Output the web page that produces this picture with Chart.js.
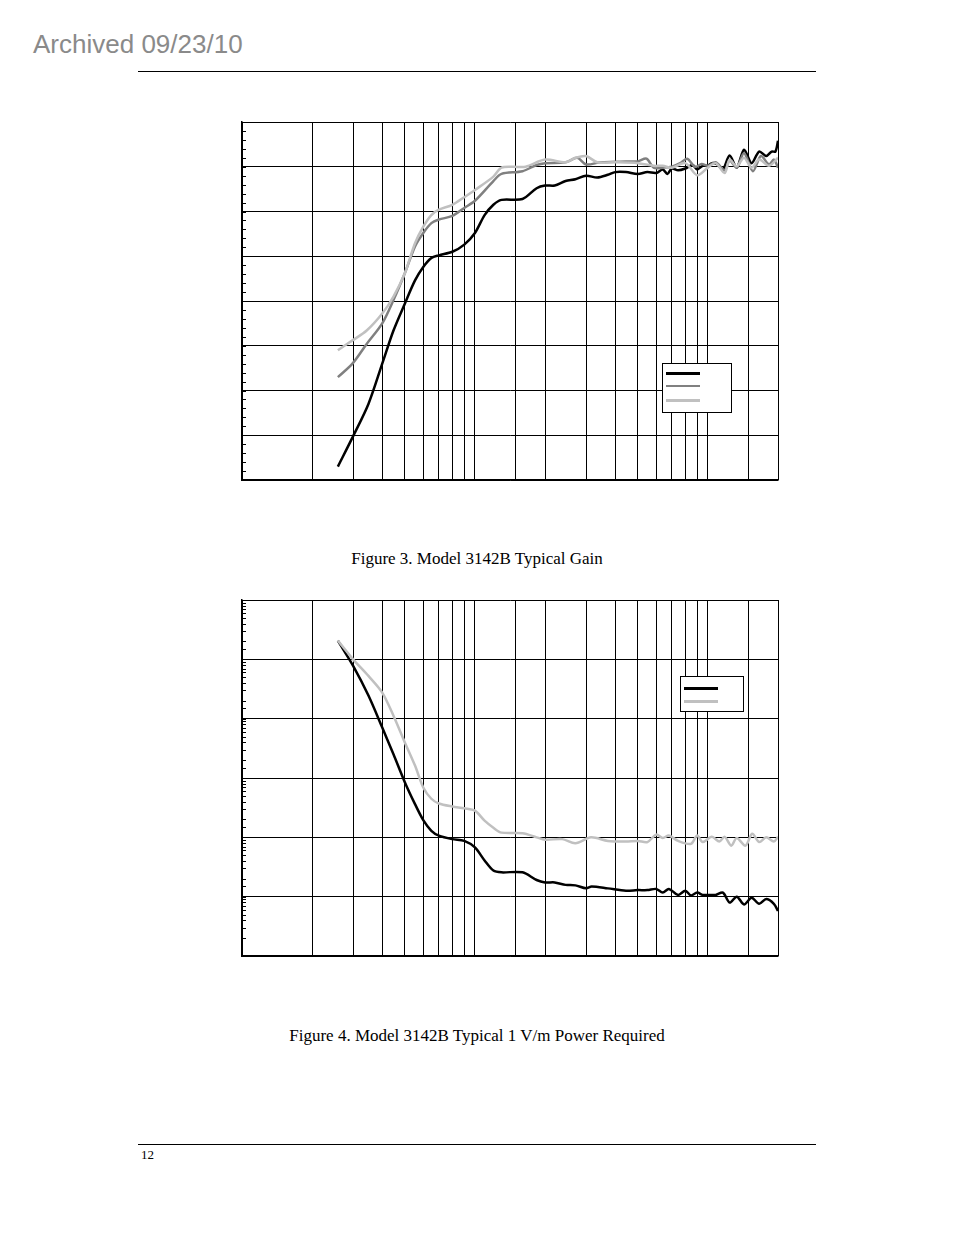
<!DOCTYPE html>
<html><head><meta charset="utf-8">
<script src="https://cdn.jsdelivr.net/npm/chart.js@4/dist/chart.umd.min.js"></script>
<style>
body{margin:0;width:954px;height:1235px;background:#fff;position:relative;font-family:"Liberation Serif",serif;}
.abs{position:absolute;}
.leg{position:absolute;border:1px solid #000;background:#fff;}
.leg div{position:absolute;left:3px;width:34px;}
</style></head><body>
<div class="abs" style="left:33px;top:29px;font-family:'Liberation Sans',Arial,sans-serif;font-size:26px;color:#8a8a8a;">Archived 09/23/10</div>
<div class="abs" style="left:138px;top:71px;width:678px;height:1px;background:#000;"></div>
<div class="abs" style="left:241px;top:121px;width:538px;height:360px;"><canvas id="c1"></canvas></div>
<div class="leg" style="left:662px;top:363px;width:68px;height:48px;">
 <div style="top:8px;height:3px;background:#000;"></div>
 <div style="top:21px;height:2px;background:#808080;"></div>
 <div style="top:35px;height:3px;background:#c0c0c0;"></div>
</div>
<div class="abs" style="left:0;width:954px;top:549px;text-align:center;font-size:17px;">Figure 3. Model 3142B Typical Gain</div>
<div class="abs" style="left:241px;top:599px;width:538px;height:358px;"><canvas id="c2"></canvas></div>
<div class="leg" style="left:680px;top:676px;width:62px;height:34px;">
 <div style="top:10px;height:3px;background:#000;"></div>
 <div style="top:23px;height:3px;background:#c0c0c0;"></div>
</div>
<div class="abs" style="left:0;width:954px;top:1026px;text-align:center;font-size:17px;">Figure 4. Model 3142B Typical 1 V/m Power Required</div>
<div class="abs" style="left:138px;top:1144px;width:678px;height:1px;background:#000;"></div>
<div class="abs" style="left:141px;top:1147px;font-size:13px;">12</div>
<script>
const gainBlackF=[25.8,30,34.9,40,44.7,50,55.3,60,65,70,80,90,100,110,120,130,160,184,200,220,245,270,300,335,372,400,445,500,550,600,640,670,700,745,800,860,900,950,1000,1040,1100,1160,1240,1330,1430,1540,1660,1780,1880,1950,2000];
const gainBlack=[-28.5,-25.1,-21.5,-17,-13.3,-10.3,-7.7,-6.2,-5.2,-4.9,-4.5,-3.7,-2.4,-0.4,0.76,1.3,1.4,2.6,2.9,2.9,3.4,3.6,4.0,3.8,4.1,4.4,4.4,4.2,4.4,4.3,4.7,4.2,4.8,4.6,4.8,5.2,4.7,5.1,5.1,5.4,5.25,4.7,6.25,4.9,6.9,5.4,6.7,6.2,6.7,6.7,7.9];
const gainMidF=[25.8,29.8,34.3,40,44.7,50,55.3,60,65,70,80,90,100,120,130,160,184,200,245,275,300,345,400,445,500,545,585,640,700,760,815,880,940,1000,1080,1180,1240,1330,1430,1560,1690,1830,1920,2000];
const gainMid=[-18.5,-17,-14.8,-12.5,-9.9,-6.9,-3.9,-2.4,-1.3,-0.9,-0.5,0.4,1.2,3.4,4.2,4.5,5.2,5.4,5.5,6.0,5.25,5.5,5.55,5.6,5.6,5.9,4.9,4.9,5.0,5.4,5.9,5.0,5.3,5.1,5.5,4.6,5.7,4.9,6.5,4.5,6.2,5.25,5.8,4.9];
const gainLightF=[25.8,29.8,34.3,40,44.7,50,55.3,60,65,70,80,90,100,120,130,146,165,200,245,270,300,335,400,500,585,640,700,800,900,1000,1080,1180,1240,1330,1430,1540,1660,1830,2000];
const gainLight=[-15.5,-14.4,-13.3,-11.4,-9.5,-6.9,-3.55,-1.7,-0.4,0.2,0.75,1.6,2.4,3.9,4.9,5.0,5.0,5.8,5.5,6.0,6.2,5.5,5.5,5.4,5.1,5.1,4.9,5.4,4.05,4.9,5.4,4.3,5.8,5.05,6.0,4.9,5.8,5.1,6.0];
const powBlackF=[25.8,30,34.9,40,44.7,50,55.3,60,65,70,80,90,100,110,120,130,160,184,200,220,245,270,300,317,372,445,500,550,600,640,680,745,800,845,900,950,1000,1080,1160,1240,1330,1430,1540,1660,1780,1920,2000];
const powBlack=[206.5,77.6,24.5,7.08,2.51,0.851,0.363,0.195,0.129,0.107,0.0933,0.0871,0.0676,0.0407,0.0275,0.0257,0.0257,0.0191,0.0174,0.0174,0.0158,0.0155,0.0138,0.0148,0.0138,0.0126,0.0129,0.0129,0.0135,0.0117,0.0135,0.0107,0.0126,0.0105,0.0117,0.0107,0.0107,0.0107,0.0117,0.00794,0.01,0.00741,0.00955,0.00759,0.00912,0.00759,0.00575];
const powGrayF=[25.8,30,34.9,40,44.7,50,55.3,60,65,70,80,90,100,110,120,130,160,184,200,237,270,315,372,445,500,550,600,640,680,745,845,900,950,1040,1120,1180,1260,1330,1450,1550,1660,1780,1920,2000];
const powGray=[206.5,100,52.5,27.5,11.2,3.98,1.62,0.692,0.447,0.372,0.331,0.309,0.282,0.191,0.145,0.120,0.117,0.1,0.0912,0.0933,0.0794,0.1,0.0871,0.0851,0.0871,0.0832,0.111,0.0977,0.107,0.0871,0.0776,0.107,0.0832,0.102,0.0851,0.102,0.0724,0.0977,0.0724,0.115,0.0832,0.1,0.0851,0.102];

const pts=(f,v)=>f.map((x,i)=>({x:x,y:v[i]}));
const ds=(f,v,c,w)=>({data:pts(f,v),borderColor:c,borderWidth:w,pointRadius:0,tension:0.3,fill:false});
const minorTicks={id:'minorTicks',afterDraw(ch){const s=ch.scales.y,ctx=ch.ctx;ctx.save();ctx.strokeStyle='#000';ctx.lineWidth=1;
 s.ticks.forEach(t=>{const y=Math.round(s.getPixelForValue(t.value))+0.5;ctx.beginPath();ctx.moveTo(s.left,y);ctx.lineTo(s.left+4,y);ctx.stroke();});ctx.restore();}};
const xScale={type:'logarithmic',min:10,max:2000,border:{color:'#000',width:1.5},
 grid:{color:'#000',lineWidth:1,drawTicks:false},ticks:{display:false,autoSkip:false}};
const base={responsive:true,maintainAspectRatio:false,animation:false,layout:{padding:1},plugins:{legend:{display:false},tooltip:{enabled:false}}};
new Chart(document.getElementById('c1'),{type:'line',data:{datasets:[ds(gainLightF,gainLight,'#c0c0c0',2.5),ds(gainMidF,gainMid,'#808080',2.5),ds(gainBlackF,gainBlack,'#000',2.5)]},
 options:Object.assign({},base,{scales:{x:xScale,
  y:{min:-30,max:10,border:{color:'#000',width:1.5},ticks:{display:false,stepSize:1,autoSkip:false},
   grid:{drawTicks:false,color:c=>(c.tick&&Math.round(c.tick.value)%5===0)?'#000':'rgba(0,0,0,0)',lineWidth:1}}}}),plugins:[minorTicks]});
new Chart(document.getElementById('c2'),{type:'line',data:{datasets:[ds(powGrayF,powGray,'#c0c0c0',2.5),ds(powBlackF,powBlack,'#000',2.5)]},
 options:Object.assign({},base,{scales:{x:xScale,
  y:{type:'logarithmic',min:0.001,max:1000,border:{color:'#000',width:1.5},ticks:{display:false,autoSkip:false},
   grid:{drawTicks:false,color:c=>{if(!c.tick)return 'rgba(0,0,0,0)';const l=Math.log10(c.tick.value);return Math.abs(l-Math.round(l))<1e-6?'#000':'rgba(0,0,0,0)';},lineWidth:1}}}}),plugins:[minorTicks]});
</script>
</body></html>
